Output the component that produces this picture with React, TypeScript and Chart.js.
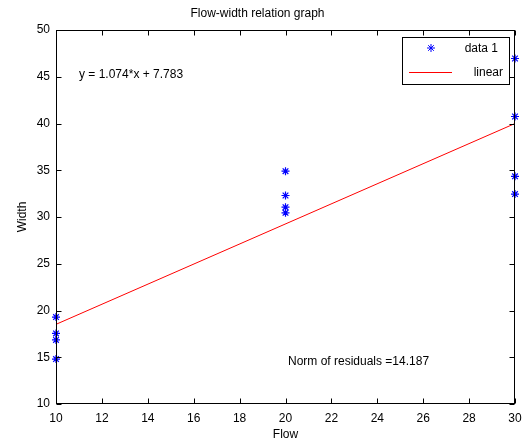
import { useEffect, useRef } from "react";
import { Chart, registerables } from "chart.js";

Chart.register(...registerables);

const flowValues = [10, 10, 10, 10, 20, 20, 20, 20, 30, 30, 30, 30];
const widthValues = [19.3, 17.55, 16.85, 14.8, 34.9, 32.3, 31.05, 30.45, 46.95, 40.75, 34.35, 32.45];
const fitX = [10, 30];
const fitY = [18.52, 40.0];
const xTicks = [10, 12, 14, 16, 18, 20, 22, 24, 26, 28, 30];
const yTicks = [10, 15, 20, 25, 30, 35, 40, 45, 50];
const titleText = "Flow-width relation graph";
const xLabel = "Flow";
const yLabel = "Width";
const equationText = "y = 1.074*x + 7.783";
const residualText = "Norm of residuals =14.187";
const legendLabels = ["data 1", "linear"];

const FONT = '"Liberation Sans", Arial, sans-serif';

export default function App() {
  const ref = useRef<HTMLCanvasElement>(null);

  useEffect(() => {
    document.body.style.margin = "0";
    const boxPlugin = {
      id: "matlabBox",
      afterDraw(chart: any) {
        const { ctx, chartArea: a, scales } = chart;
        const xs = scales.x;
        const ys = scales.y;
        const L = Math.round(a.left) + 0.5;
        const R = Math.round(a.right) - 0.5;
        const T = Math.round(a.top) + 0.5;
        const B = Math.round(a.bottom) - 0.5;
        ctx.save();
        ctx.strokeStyle = "#000";
        ctx.lineWidth = 1;
        ctx.strokeRect(L, T, R - L, B - T);
        const tl = 5;
        ctx.beginPath();
        xTicks.forEach((v) => {
          const px = Math.round(xs.getPixelForValue(v)) + 0.5;
          ctx.moveTo(px, B);
          ctx.lineTo(px, B - tl);
          ctx.moveTo(px, T);
          ctx.lineTo(px, T + tl);
        });
        yTicks.forEach((v) => {
          const py = Math.round(ys.getPixelForValue(v)) + 0.5;
          ctx.moveTo(L, py);
          ctx.lineTo(L + tl, py);
          ctx.moveTo(R, py);
          ctx.lineTo(R - tl, py);
        });
        ctx.stroke();

        // annotations
        ctx.fillStyle = "#000";
        ctx.font = `12px ${FONT}`;
        ctx.textBaseline = "middle";
        ctx.textAlign = "left";
        ctx.fillText(equationText, 79, 75);
        ctx.fillText(residualText, 288, 362);

        // legend
        const lx = 402.5, ly = 37.5, lw = 107, lh = 47;
        ctx.fillStyle = "#fff";
        ctx.fillRect(lx, ly, lw, lh);
        ctx.strokeStyle = "#000";
        ctx.strokeRect(lx, ly, lw, lh);
        ctx.fillStyle = "#000";
        ctx.textAlign = "right";
        ctx.fillText(legendLabels[0], 498, 49);
        ctx.fillText(legendLabels[1], 503, 73);
        // star marker
        const sx = 431, sy = 48, r = 4;
        ctx.strokeStyle = "#0000ff";
        ctx.beginPath();
        ctx.moveTo(sx - r, sy);
        ctx.lineTo(sx + r, sy);
        ctx.moveTo(sx, sy - r);
        ctx.lineTo(sx, sy + r);
        const d = r * 0.7;
        ctx.moveTo(sx - d, sy - d);
        ctx.lineTo(sx + d, sy + d);
        ctx.moveTo(sx - d, sy + d);
        ctx.lineTo(sx + d, sy - d);
        ctx.stroke();
        // red line
        ctx.strokeStyle = "#ff0000";
        ctx.beginPath();
        ctx.moveTo(409, 72.5);
        ctx.lineTo(452, 72.5);
        ctx.stroke();
        ctx.restore();
      },
    };

    const chart = new Chart(ref.current as HTMLCanvasElement, {
      data: {
        datasets: [
          {
            type: "scatter",
            label: legendLabels[0],
            data: flowValues.map((x, i) => ({ x, y: widthValues[i] })),
            pointStyle: "star",
            pointRadius: 4,
            borderColor: "#0000ff",
            backgroundColor: "#0000ff",
            borderWidth: 1.2,
            clip: false,
          } as any,
          {
            type: "line",
            label: legendLabels[1],
            data: fitX.map((x, i) => ({ x, y: fitY[i] })),
            borderColor: "#ff0000",
            borderWidth: 1,
            pointRadius: 0,
            clip: false,
          } as any,
        ],
      },
      options: {
        responsive: false,
        animation: false,
        layout: { padding: { right: 8, left: 0, top: 0, bottom: 0 } },
        plugins: {
          legend: { display: false },
          tooltip: { enabled: false },
          title: {
            display: true,
            text: titleText,
            color: "#000",
            font: { size: 12, family: FONT, weight: "normal" as any },
            padding: { top: 6, bottom: 9.6 },
          },
        },
        scales: {
          x: {
            type: "linear",
            min: 10,
            max: 30,
            afterBuildTicks: (s: any) => {
              s.ticks = xTicks.map((v) => ({ value: v }));
            },
            ticks: { color: "#000", font: { size: 12, family: FONT }, padding: 7, maxRotation: 0, autoSkip: false },
            grid: { display: false, drawTicks: false, tickLength: 0 },
            border: { display: false },
            title: {
              display: true,
              text: xLabel,
              color: "#000",
              font: { size: 12, family: FONT },
              padding: { top: 0, bottom: 6 },
            },
            afterFit: (s: any) => {
              s.height = 44;
              s.paddingLeft = 0;
              s.paddingRight = 0;
            },
          },
          y: {
            type: "linear",
            min: 10,
            max: 50,
            afterBuildTicks: (s: any) => {
              s.ticks = yTicks.map((v) => ({ value: v }));
            },
            ticks: { color: "#000", font: { size: 12, family: FONT }, padding: 6, autoSkip: false },
            grid: { display: false, drawTicks: false, tickLength: 0 },
            border: { display: false },
            title: {
              display: true,
              text: yLabel,
              color: "#000",
              font: { size: 12, family: FONT },
              padding: { top: 15, bottom: 0 },
            },
            afterFit: (s: any) => {
              s.width = 56;
              s.paddingTop = 0;
              s.paddingBottom = 0;
            },
          },
        },
      },
      plugins: [boxPlugin],
    });
    return () => chart.destroy();
  }, []);

  return (
    <div style={{ position: "fixed", left: 0, top: 0, width: 523, height: 448, background: "#fff" }}>
      <canvas ref={ref} width={523} height={448} />
    </div>
  );
}
